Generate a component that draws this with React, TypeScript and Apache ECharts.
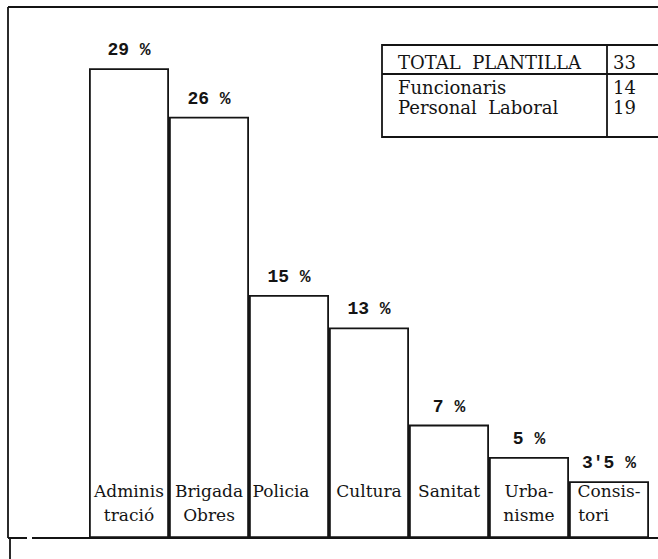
import React, { useEffect, useRef } from "react";
import * as echarts from "echarts";

const categories = [
  "Adminis\ntració",
  "Brigada\nObres",
  "Policia",
  "Cultura",
  "Sanitat",
  "Urba-\nnisme",
  "Consis-\ntori",
];
const percentages = [29, 26, 15, 13, 7, 5, 3.5];
const tableRows = ["TOTAL  PLANTILLA", "Funcionaris", "Personal  Laboral"];
const tableValues = ["33", "14", "19"];

const INK = "#141414";
const SERIF = "'DejaVu Serif', serif";

export default function App() {
  const ref = useRef<HTMLDivElement>(null);
  useEffect(() => {
    if (!ref.current) return;
    const chart = echarts.init(ref.current, null, { renderer: "svg" });
    const lineStyle = { stroke: INK, lineWidth: 1.8 };
    const rowY = [62, 87, 107];
    const tableText = tableRows.map((t, i) => ({
      type: "text",
      x: 398,
      y: rowY[i],
      style: {
        text: t,
        fill: INK,
        font: `18px ${SERIF}`,
        verticalAlign: "middle",
        align: "left",
      },
    }));
    const tableNums = tableValues.map((t, i) => ({
      type: "text",
      x: 613,
      y: rowY[i],
      style: {
        text: t,
        fill: INK,
        font: `18px ${SERIF}`,
        verticalAlign: "middle",
        align: "left",
      },
    }));
    const labelBase = {
      fontFamily: SERIF,
      fontSize: 17,
      lineHeight: 24,
      color: INK,
    };
    chart.setOption({
      animation: false,
      backgroundColor: "#ffffff",
      grid: { left: 89, right: 9, top: 52, bottom: 21 },
      xAxis: {
        type: "category",
        data: categories,
        z: 10,
        axisTick: { show: false },
        axisLine: { lineStyle: { color: INK, width: 2 } },
        axisLabel: {
          show: true,
          interval: 0,
          hideOverlap: false,
          margin: -59,
          verticalAlign: "top",
          ...labelBase,
          formatter: (value: string, index: number) => {
            if (index === 6) {
              const [a, b] = value.split("\n");
              return `{c|${a}}\n{t|${b}}`;
            }
            if (index === 2) return `{p|${value}}`;
            return value;
          },
          rich: {
            c: { ...labelBase },
            t: { ...labelBase, padding: [0, 31, 0, 0] },
            p: { ...labelBase, padding: [0, 16, 0, 0] },
          },
        },
        splitLine: { show: false },
      },
      yAxis: {
        type: "value",
        min: 0,
        max: 30,
        show: false,
        splitLine: { show: false },
      },
      series: [
        {
          type: "bar",
          data: percentages,
          barWidth: "100%",
          barCategoryGap: "0%",
          itemStyle: {
            color: "#ffffff",
            borderColor: INK,
            borderWidth: 1.8,
          },
          label: {
            show: true,
            position: "top",
            distance: 9,
            color: INK,
            fontFamily: "'Liberation Mono', monospace",
            fontSize: 18,
            fontWeight: "bold",
            formatter: (p: any) => String(p.value).replace(".", "'") + " %",
          },
        },
      ],
      graphic: [
        { type: "line", shape: { x1: 8, y1: 7, x2: 658, y2: 7 }, style: lineStyle },
        { type: "line", shape: { x1: 8, y1: 7, x2: 8, y2: 538 }, style: lineStyle },
        { type: "line", shape: { x1: 10, y1: 538, x2: 10, y2: 559 }, style: lineStyle },
        { type: "line", shape: { x1: 8, y1: 538, x2: 27, y2: 538 }, style: { stroke: INK, lineWidth: 2 } },
        { type: "line", shape: { x1: 32, y1: 538, x2: 89, y2: 538 }, style: { stroke: INK, lineWidth: 2 } },
        { type: "line", shape: { x1: 649, y1: 538, x2: 658, y2: 538 }, style: { stroke: INK, lineWidth: 2 } },
        { type: "rect", shape: { x: 382, y: 45, width: 300, height: 92 }, style: { fill: "none", stroke: INK, lineWidth: 1.8 } },
        { type: "line", shape: { x1: 382, y1: 74, x2: 658, y2: 74 }, style: lineStyle },
        { type: "line", shape: { x1: 607, y1: 45, x2: 607, y2: 137 }, style: lineStyle },
        ...tableText,
        ...tableNums,
      ],
    });
    return () => chart.dispose();
  }, []);
  return (
    <div
      ref={ref}
      style={{ position: "fixed", left: 0, top: 0, width: 658, height: 559, background: "#fff" }}
    />
  );
}
